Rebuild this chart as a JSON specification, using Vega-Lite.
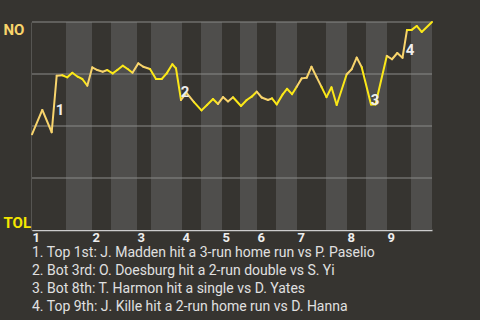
{
  "$schema": "https://vega.github.io/schema/vega-lite/v6.json",
  "width": 400,
  "height": 208,
  "autosize": {"type": "none"},
  "padding": {"left": 32, "top": 22, "right": 48, "bottom": 90},
  "background": "#363430",
  "config": {
    "view": {"stroke": null},
    "font": "Roboto",
    "axisX": {
      "title": null,
      "grid": false,
      "ticks": false,
      "labelAlign": "left",
      "labelBaseline": "top",
      "labelPadding": 1,
      "labelFlush": false,
      "labelOverlap": false,
      "labelFont": "Roboto",
      "labelFontSize": 13,
      "labelFontWeight": "bold",
      "labelColor": "#eeeeee",
      "domainColor": "#cccccc",
      "domainWidth": 1.5,
      "zindex": 1
    },
    "axisY": {
      "title": null,
      "grid": false,
      "ticks": false,
      "labelAlign": "left",
      "labelFlush": true,
      "labelFlushOffset": 0,
      "labelPadding": 29,
      "labelFont": "Roboto",
      "labelFontSize": 15,
      "labelFontWeight": "bold",
      "domainColor": "#bbbbbb",
      "domainWidth": 1.5,
      "zindex": 1
    }
  },
  "title": {
    "text": [
      "1. Top 1st: J. Madden hit a 3-run home run vs P. Paselio",
      "2. Bot 3rd: O. Doesburg hit a 2-run double vs S. Yi",
      "3. Bot 8th: T. Harmon hit a single vs D. Yates",
      "4. Top 9th: J. Kille hit a 2-run home run vs D. Hanna"
    ],
    "orient": "bottom",
    "anchor": "start",
    "frame": "group",
    "offset": 2,
    "font": "Roboto",
    "fontSize": 14,
    "fontWeight": "normal",
    "color": "#e0e0e0",
    "lineHeight": 18
  },
  "datasets": {
    "bands": [
      {"start": 0, "end": 6.8, "half": "top"},
      {"start": 6.8, "end": 12, "half": "bottom"},
      {"start": 12, "end": 15.8, "half": "top"},
      {"start": 15.8, "end": 21, "half": "bottom"},
      {"start": 21, "end": 23.8, "half": "top"},
      {"start": 23.8, "end": 30, "half": "bottom"},
      {"start": 30, "end": 33.8, "half": "top"},
      {"start": 33.8, "end": 38, "half": "bottom"},
      {"start": 38, "end": 41.6, "half": "top"},
      {"start": 41.6, "end": 45, "half": "bottom"},
      {"start": 45, "end": 48.8, "half": "top"},
      {"start": 48.8, "end": 53, "half": "bottom"},
      {"start": 53, "end": 58.8, "half": "top"},
      {"start": 58.8, "end": 63, "half": "bottom"},
      {"start": 63, "end": 66.8, "half": "top"},
      {"start": 66.8, "end": 71, "half": "bottom"},
      {"start": 71, "end": 75.8, "half": "top"},
      {"start": 75.8, "end": 80, "half": "bottom"}
    ],
    "grid": [{"y": 0.25}, {"y": 0.5}, {"y": 0.75}, {"y": 1}],
    "wp": [
      {"i": 0, "wp": 0.46, "half": "top"},
      {"i": 2.06, "wp": 0.577, "half": "top"},
      {"i": 3.94, "wp": 0.47, "half": "top"},
      {"i": 4.94, "wp": 0.742, "half": "top"},
      {"i": 6.06, "wp": 0.744, "half": "top"},
      {"i": 7.06, "wp": 0.734, "half": "bottom"},
      {"i": 8.06, "wp": 0.756, "half": "bottom"},
      {"i": 9.14, "wp": 0.737, "half": "bottom"},
      {"i": 10.06, "wp": 0.726, "half": "bottom"},
      {"i": 11.06, "wp": 0.694, "half": "bottom"},
      {"i": 12.06, "wp": 0.782, "half": "top"},
      {"i": 13.06, "wp": 0.769, "half": "top"},
      {"i": 14.14, "wp": 0.761, "half": "top"},
      {"i": 15.06, "wp": 0.769, "half": "top"},
      {"i": 16.14, "wp": 0.753, "half": "bottom"},
      {"i": 17.06, "wp": 0.769, "half": "bottom"},
      {"i": 18.14, "wp": 0.79, "half": "bottom"},
      {"i": 19.14, "wp": 0.774, "half": "bottom"},
      {"i": 20.1, "wp": 0.756, "half": "bottom"},
      {"i": 21.26, "wp": 0.801, "half": "top"},
      {"i": 22.26, "wp": 0.785, "half": "top"},
      {"i": 23.6, "wp": 0.774, "half": "top"},
      {"i": 24.8, "wp": 0.726, "half": "bottom"},
      {"i": 25.94, "wp": 0.726, "half": "bottom"},
      {"i": 26.94, "wp": 0.753, "half": "bottom"},
      {"i": 28.06, "wp": 0.797, "half": "bottom"},
      {"i": 28.8, "wp": 0.777, "half": "bottom"},
      {"i": 29.8, "wp": 0.625, "half": "bottom"},
      {"i": 30.9, "wp": 0.659, "half": "top"},
      {"i": 32.4, "wp": 0.615, "half": "top"},
      {"i": 33.9, "wp": 0.575, "half": "bottom"},
      {"i": 35, "wp": 0.601, "half": "bottom"},
      {"i": 36.2, "wp": 0.63, "half": "bottom"},
      {"i": 37.2, "wp": 0.606, "half": "bottom"},
      {"i": 38.2, "wp": 0.639, "half": "top"},
      {"i": 39.2, "wp": 0.618, "half": "top"},
      {"i": 40.2, "wp": 0.638, "half": "top"},
      {"i": 41.8, "wp": 0.596, "half": "bottom"},
      {"i": 42.94, "wp": 0.625, "half": "bottom"},
      {"i": 43.94, "wp": 0.641, "half": "bottom"},
      {"i": 44.94, "wp": 0.665, "half": "bottom"},
      {"i": 45.94, "wp": 0.637, "half": "top"},
      {"i": 47.2, "wp": 0.625, "half": "top"},
      {"i": 48, "wp": 0.633, "half": "top"},
      {"i": 48.94, "wp": 0.604, "half": "bottom"},
      {"i": 50.14, "wp": 0.652, "half": "bottom"},
      {"i": 51, "wp": 0.679, "half": "bottom"},
      {"i": 52, "wp": 0.653, "half": "bottom"},
      {"i": 52.94, "wp": 0.689, "half": "bottom"},
      {"i": 53.94, "wp": 0.729, "half": "top"},
      {"i": 54.94, "wp": 0.732, "half": "top"},
      {"i": 55.9, "wp": 0.785, "half": "top"},
      {"i": 56.9, "wp": 0.736, "half": "top"},
      {"i": 57.9, "wp": 0.688, "half": "top"},
      {"i": 58.9, "wp": 0.639, "half": "bottom"},
      {"i": 59.9, "wp": 0.686, "half": "bottom"},
      {"i": 60.94, "wp": 0.601, "half": "bottom"},
      {"i": 62.94, "wp": 0.749, "half": "bottom"},
      {"i": 63.94, "wp": 0.773, "half": "top"},
      {"i": 64.94, "wp": 0.829, "half": "top"},
      {"i": 65.94, "wp": 0.783, "half": "top"},
      {"i": 67.8, "wp": 0.603, "half": "bottom"},
      {"i": 68.7, "wp": 0.603, "half": "bottom"},
      {"i": 70.96, "wp": 0.837, "half": "bottom"},
      {"i": 72, "wp": 0.821, "half": "top"},
      {"i": 73.06, "wp": 0.851, "half": "top"},
      {"i": 74.1, "wp": 0.828, "half": "top"},
      {"i": 75, "wp": 0.962, "half": "top"},
      {"i": 75.94, "wp": 0.962, "half": "bottom"},
      {"i": 76.94, "wp": 0.981, "half": "bottom"},
      {"i": 77.94, "wp": 0.952, "half": "bottom"},
      {"i": 80, "wp": 1.0, "half": "bottom"}
    ],
    "events": [
      {"i": 5.6, "wp": 0.577, "label": "1"},
      {"i": 30.6, "wp": 0.663, "label": "2"},
      {"i": 68.6, "wp": 0.625, "label": "3"},
      {"i": 75.6, "wp": 0.865, "label": "4"}
    ]
  },
  "layer": [
    {
      "data": {"name": "bands"},
      "mark": {"type": "rect"},
      "encoding": {
        "x": {
          "field": "start",
          "type": "quantitative",
          "scale": {"domain": [0, 80], "nice": false, "zero": false},
          "axis": {
            "values": [0, 12, 21, 30, 38, 45, 53, 63, 71],
            "labelExpr": "indexof([0, 12, 21, 30, 38, 45, 53, 63, 71], datum.value) + 1"
          }
        },
        "x2": {"field": "end"},
        "color": {
          "condition": {"test": "datum.half == 'bottom'", "value": "#4f4e4c"},
          "value": "#363430"
        }
      }
    },
    {
      "data": {"name": "grid"},
      "mark": {"type": "rule", "color": "#8a8a88", "strokeWidth": 1},
      "encoding": {
        "y": {
          "field": "y",
          "type": "quantitative",
          "scale": {"domain": [0, 1], "nice": false, "zero": false},
          "axis": {
            "values": [0, 1],
            "labelExpr": "datum.value == 1 ? 'NO' : 'TOL'",
            "labelColor": {"condition": {"test": "datum.value == 1", "value": "#f8d46c"}, "value": "#f4e600"}
          }
        }
      }
    },
    {
      "data": {"name": "wp"},
      "transform": [
        {"window": [{"op": "lag", "field": "i", "as": "i0"}, {"op": "lag", "field": "wp", "as": "wp0"}], "sort": [{"field": "i"}]},
        {"filter": "datum.i0 != null"}
      ],
      "mark": {"type": "rule", "strokeWidth": 2, "strokeCap": "round"},
      "encoding": {
        "x": {
          "field": "i0",
          "type": "quantitative",
          "scale": {"domain": [0, 80], "nice": false, "zero": false},
          "axis": {
            "values": [0, 12, 21, 30, 38, 45, 53, 63, 71],
            "labelExpr": "indexof([0, 12, 21, 30, 38, 45, 53, 63, 71], datum.value) + 1"
          }
        },
        "y": {
          "field": "wp0",
          "type": "quantitative",
          "scale": {"domain": [0, 1], "nice": false, "zero": false},
          "axis": {
            "values": [0, 1],
            "labelExpr": "datum.value == 1 ? 'NO' : 'TOL'",
            "labelColor": {"condition": {"test": "datum.value == 1", "value": "#f8d46c"}, "value": "#f4e600"}
          }
        },
        "x2": {"field": "i"},
        "y2": {"field": "wp"},
        "color": {
          "condition": {"test": "datum.half == 'top'", "value": "#f8d46c"},
          "value": "#fbe818"
        }
      }
    },
    {
      "data": {"name": "events"},
      "mark": {"type": "text", "font": "Roboto", "fontSize": 15, "fontWeight": "bold", "color": "#eeeeee", "align": "center", "baseline": "middle"},
      "encoding": {
        "x": {
          "field": "i",
          "type": "quantitative",
          "scale": {"domain": [0, 80], "nice": false, "zero": false},
          "axis": {
            "values": [0, 12, 21, 30, 38, 45, 53, 63, 71],
            "labelExpr": "indexof([0, 12, 21, 30, 38, 45, 53, 63, 71], datum.value) + 1"
          }
        },
        "y": {
          "field": "wp",
          "type": "quantitative",
          "scale": {"domain": [0, 1], "nice": false, "zero": false},
          "axis": {
            "values": [0, 1],
            "labelExpr": "datum.value == 1 ? 'NO' : 'TOL'",
            "labelColor": {"condition": {"test": "datum.value == 1", "value": "#f8d46c"}, "value": "#f4e600"}
          }
        },
        "text": {"field": "label"}
      }
    }
  ]
}
